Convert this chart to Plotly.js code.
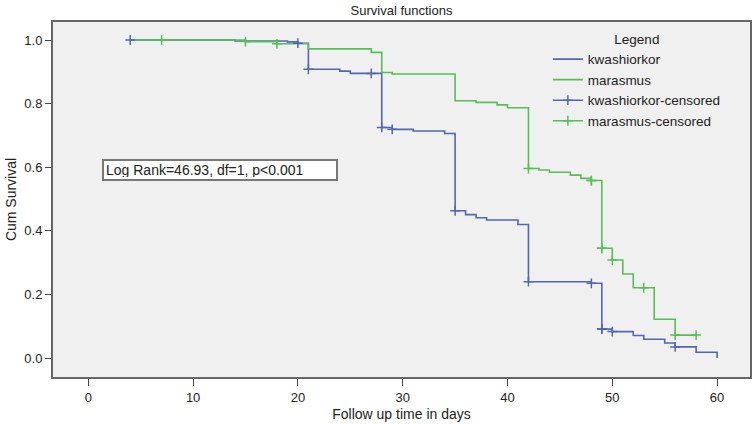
<!DOCTYPE html>
<html>
<head>
<meta charset="utf-8">
<script src="https://cdn.plot.ly/plotly-3.0.1.min.js"></script>
<style>html,body{margin:0;padding:0;background:#fff;}#chart{width:753px;height:425px;}</style>
</head>
<body>
<div id="chart"></div>
<script>
// Kaplan-Meier step points (time in days, cumulative survival after the step)
const kwashTime = [4, 14, 19, 20, 21, 24, 25, 28, 29, 31, 34, 35, 36, 37, 38, 41, 42, 48, 49, 50, 52, 53, 55, 56, 58, 60];
const kwashSurv = [1.0, 0.997, 0.994, 0.990, 0.908, 0.902, 0.895, 0.725, 0.719, 0.714, 0.706, 0.463, 0.451, 0.441, 0.434, 0.420, 0.240, 0.235, 0.091, 0.083, 0.071, 0.059, 0.047, 0.035, 0.018, 0.0];
const marasTime = [4, 15, 18, 21, 27, 28, 29, 35, 37, 39, 40, 42, 43, 44, 46, 47, 48, 49, 50, 51, 52, 54, 56, 58];
const marasSurv = [1.0, 0.995, 0.988, 0.972, 0.961, 0.898, 0.893, 0.809, 0.804, 0.796, 0.787, 0.596, 0.591, 0.584, 0.575, 0.565, 0.558, 0.345, 0.308, 0.264, 0.221, 0.122, 0.072, 0.072];
// Censored observations
const kwashCensTime = [4, 20, 21, 27, 28, 29, 35, 42, 48, 49, 49, 50, 56];
const kwashCensSurv = [1.0, 0.990, 0.908, 0.895, 0.725, 0.719, 0.463, 0.240, 0.235, 0.091, 0.091, 0.083, 0.035];
const marasCensTime = [7, 15, 18, 42, 48, 48, 49, 49, 50, 53, 56, 58];
const marasCensSurv = [1.0, 0.995, 0.988, 0.596, 0.558, 0.558, 0.345, 0.345, 0.308, 0.221, 0.072, 0.072];

const seriesNames = ['kwashiorkor', 'marasmus', 'kwashiorkor-censored', 'marasmus-censored'];
const xTicks = [0, 10, 20, 30, 40, 50, 60];
const yTicks = [0, 0.2, 0.4, 0.6, 0.8, 1.0];

const BLUE = '#5266B4';
const GREEN = '#57BE57';

// interleave nulls so each censor mark stands alone (legend then shows line + cross)
function gapped(arr) {
  const out = [];
  arr.forEach((v, i) => { if (i) out.push(null); out.push(v); });
  return out;
}

const traces = [
  {x: kwashTime, y: kwashSurv, name: seriesNames[0], mode: 'lines',
   line: {shape: 'hv', color: BLUE, width: 1.6}},
  {x: marasTime, y: marasSurv, name: seriesNames[1], mode: 'lines',
   line: {shape: 'hv', color: GREEN, width: 1.6}},
  {x: gapped(kwashCensTime), y: gapped(kwashCensSurv), name: seriesNames[2], mode: 'lines+markers',
   connectgaps: false, line: {color: BLUE, width: 1.6},
   marker: {symbol: 'cross-thin', size: 7, line: {color: BLUE, width: 1.5}}},
  {x: gapped(marasCensTime), y: gapped(marasCensSurv), name: seriesNames[3], mode: 'lines+markers',
   connectgaps: false, line: {color: GREEN, width: 1.6},
   marker: {symbol: 'cross-thin', size: 7, line: {color: GREEN, width: 1.5}}}
];

const FONT = 'Liberation Sans, Arial, Helvetica, sans-serif';

const layout = {
  width: 753, height: 425,
  margin: {l: 53, r: 3, t: 22, b: 48},
  paper_bgcolor: '#ffffff',
  plot_bgcolor: '#f0f0f0',
  font: {family: FONT, size: 13, color: '#222'},
  title: {text: 'Survival functions', x: 0.5, xref: 'paper', xanchor: 'center',
          y: 1 - 10/425, yref: 'container', yanchor: 'middle',
          font: {family: FONT, size: 13, color: '#222'}},
  xaxis: {range: [-3.37, 63.14], tickvals: xTicks, ticktext: xTicks.map(String),
          showgrid: false, zeroline: false, showline: true, mirror: true,
          linecolor: '#666', linewidth: 2, ticks: 'outside', ticklen: 7, tickwidth: 1, tickcolor: '#444',
          tickfont: {size: 13, color: '#222'},
          title: {text: 'Follow up time in days', font: {size: 14, color: '#222'}, standoff: 6}},
  yaxis: {range: [-0.0597, 1.0566], tickvals: yTicks, tickformat: '.1f',
          showgrid: false, zeroline: false, showline: true, mirror: true,
          linecolor: '#666', linewidth: 2, ticks: 'outside', ticklen: 6, tickwidth: 1, tickcolor: '#444',
          tickfont: {size: 13, color: '#222'},
          title: {text: 'Cum Survival', font: {size: 14, color: '#222'}, standoff: 4}},
  legend: {x: 0.71, y: 0.988, xanchor: 'left', yanchor: 'top',
           bgcolor: 'rgba(0,0,0,0)', borderwidth: 0,
           font: {size: 13.5, color: '#222'},
           title: {text: 'Legend', side: 'top center', font: {size: 13.5, color: '#222'}},
           tracegroupgap: 0},
  showlegend: true,
  annotations: [{
    text: 'Log Rank=46.93, df=1, p&lt;0.001', xref: 'paper', yref: 'paper',
    x: (102 - 53) / 697, y: (377 - 170) / 355, xanchor: 'left', yanchor: 'middle',
    showarrow: false, align: 'left', width: 228, height: 14,
    bgcolor: '#ffffff', bordercolor: '#777', borderwidth: 2, borderpad: 2,
    font: {size: 14, color: '#222'}
  }]
};

Plotly.newPlot('chart', traces, layout, {displayModeBar: false, staticPlot: true});
</script>
</body>
</html>
